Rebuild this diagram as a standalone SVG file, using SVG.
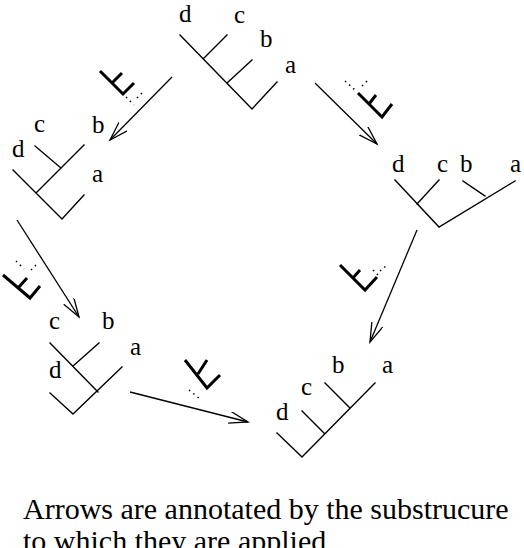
<svg xmlns="http://www.w3.org/2000/svg" width="524" height="548" viewBox="0 0 524 548">
<defs>
<style>
.t{fill:none;stroke:#000;stroke-width:1.4;stroke-linecap:square}
.k{fill:none;stroke:#000;stroke-width:3;stroke-linecap:butt}
.dt{fill:none;stroke:#000;stroke-width:1.5;stroke-dasharray:1.5 4}
.ar{fill:none;stroke:#000;stroke-width:1.3}
.lb{font-family:"Liberation Serif","Times New Roman",serif;font-size:25px;fill:#000}
.cap{font-family:"Liberation Serif","Times New Roman",serif;font-size:30px;fill:#000}
</style>
<marker id="ah" markerUnits="userSpaceOnUse" markerWidth="22" markerHeight="14" refX="19" refY="6" orient="auto">
<path d="M0,0 L19,6 L0,12" fill="none" stroke="#000" stroke-width="1.3"/>
</marker>
</defs>
<g id="tree-top">
<path class="t" d="M180,35 L252,109 L277,82 M204,58 L227,35 M227,83 L252,60"/>
<text class="lb" x="179" y="22">d</text>
<text class="lb" x="234" y="23">c</text>
<text class="lb" x="260" y="47">b</text>
<text class="lb" x="285" y="73">a</text>
</g>
<g id="tree-left">
<path class="t" d="M13,170 L62,219 L84,195 M36,193 L84,145 M35,146 L61,168"/>
<text class="lb" x="34" y="132">c</text>
<text class="lb" x="12" y="157">d</text>
<text class="lb" x="92" y="133">b</text>
<text class="lb" x="92" y="182">a</text>
</g>
<g id="tree-right">
<path class="t" d="M395,180 L439,227 L515,181 M417,204 L439,180 M463,181 L485,196"/>
<text class="lb" x="392" y="172">d</text>
<text class="lb" x="437" y="172">c</text>
<text class="lb" x="460" y="172">b</text>
<text class="lb" x="510" y="172">a</text>
</g>
<g id="tree-bottom-left">
<path class="t" d="M50,343 L98,392 M50,393 L73,414 L122,367 M99,343 L73,366"/>
<text class="lb" x="49" y="329">c</text>
<text class="lb" x="102" y="329">b</text>
<text class="lb" x="130" y="355">a</text>
<text class="lb" x="49" y="378">d</text>
</g>
<g id="tree-bottom-right">
<path class="t" d="M277,433 L302,457 L375,383 M302,411 L324,433 M325,383 L350,408"/>
<text class="lb" x="276" y="420">d</text>
<text class="lb" x="301" y="395">c</text>
<text class="lb" x="332" y="373">b</text>
<text class="lb" x="382" y="373">a</text>
</g>
<g id="connectors">
<line class="ar" x1="172" y1="77" x2="110" y2="140" marker-end="url(#ah)"/>
<line class="ar" x1="315" y1="83" x2="377" y2="144" marker-end="url(#ah)"/>
<line class="ar" x1="17" y1="220" x2="79" y2="317" marker-end="url(#ah)"/>
<line class="ar" x1="417" y1="230" x2="370" y2="342" marker-end="url(#ah)"/>
<line class="ar" x1="130" y1="392" x2="248" y2="422" marker-end="url(#ah)"/>
</g>
<g id="annotations">
<path class="k" d="M100,71 L123,94 L134,83 M112,83 L122,73"/>
<path class="dt" d="M126,97 L134,105 M137,98 L144,91"/>
<path class="k" d="M358,93 L382,117 L392,104 M369,104 L376,95"/>
<path class="dt" d="M345,81 L355,90 M362,86 L367,81"/>
<path class="k" d="M3,275 L30,298 L40,286 M18,288 L27,278"/>
<path class="dt" d="M16,261 L24,269 M31,270 L37,264"/>
<path class="k" d="M185,360 L207,388 L220,375 M207,360 L198,374"/>
<path class="dt" d="M189,390 L200,399"/>
<path class="k" d="M340,265 L365,290 L377,277 M352,279 L360,270"/>
<path class="dt" d="M373,270 L379,276 M380,271 L386,266"/>
</g>
<g id="caption">
<text class="cap" x="23" y="519">Arrows are annotated by the substrucure</text>
<text class="cap" x="23" y="551">to which they are applied</text>
</g>
</svg>
